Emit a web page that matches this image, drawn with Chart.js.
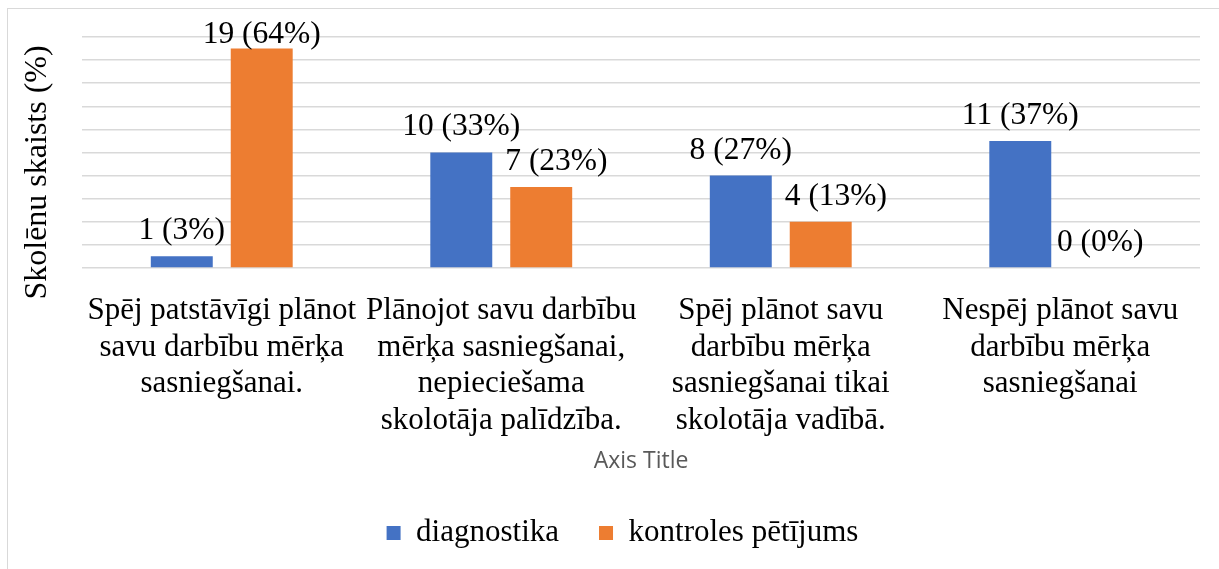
<!DOCTYPE html>
<html>
<head>
<meta charset="utf-8">
<script src="https://cdn.jsdelivr.net/npm/chart.js@4/dist/chart.umd.min.js"></script>
<style>
  html, body { margin:0; padding:0; background:#fff; overflow:hidden; }
  #frame { position:absolute; left:7px; top:8px; width:1300px; height:700px; border:1px solid #d9d9d9; }
  #c { position:absolute; left:0; top:0; }
</style>
</head>
<body>
<div id="frame"></div>
<canvas id="c" width="1219" height="569"></canvas>
<script>
const categories = [
  ["Spēj patstāvīgi plānot", "savu darbību mērķa", "sasniegšanai."],
  ["Plānojot savu darbību", "mērķa sasniegšanai,", "nepieciešama", "skolotāja palīdzība."],
  ["Spēj plānot savu", "darbību mērķa", "sasniegšanai tikai", "skolotāja vadībā."],
  ["Nespēj plānot savu", "darbību mērķa", "sasniegšanai"]
];
const diagCounts = [1, 10, 8, 11];
const diagPct = [3, 33, 27, 37];
const kontrCounts = [19, 7, 4, 0];
const kontrPct = [64, 23, 13, 0];
const yTicks = { min: 0, max: 20, step: 2 };

const SERIF = "'Liberation Serif', 'Times New Roman', serif";

function labelTexts(counts, pct){
  return counts.map((c, i) => `${c} (${pct[i]}%)`);
}

// value labels above bars, kept inside the top of the plot;
// a label that runs into the bar on its left is pushed right
const barLabels = {
  id: "barLabels",
  afterDatasetsDraw(chart){
    const ctx = chart.ctx;
    ctx.save();
    ctx.font = "31.5px " + SERIF;
    ctx.fillStyle = "#000";
    ctx.textAlign = "center";
    ctx.textBaseline = "alphabetic";
    chart.data.datasets.forEach((ds, i) => {
      const meta = chart.getDatasetMeta(i);
      const prev = i > 0 ? chart.getDatasetMeta(i - 1) : null;
      meta.data.forEach((bar, j) => {
        const txt = ds.valueLabels[j];
        const w = ctx.measureText(txt).width;
        let x = bar.x;
        const y = Math.max(bar.y - 17, chart.chartArea.top + 6);
        if(prev){
          const nb = prev.data[j];
          const edge = nb.x + nb.width / 2;
          if(x - w / 2 < edge && y > nb.y) x = edge + 13 + w / 2;
        }
        ctx.fillText(txt, x, y);
      });
    });
    ctx.restore();
  }
};

Chart.defaults.color = "#000";

new Chart(document.getElementById("c"), {
  type: "bar",
  data: {
    labels: categories,
    datasets: [
      { label: "diagnostika", data: diagCounts, valueLabels: labelTexts(diagCounts, diagPct),
        backgroundColor: "#4472C4", borderWidth: 0 },
      { label: "kontroles pētījums", data: kontrCounts, valueLabels: labelTexts(kontrCounts, kontrPct),
        backgroundColor: "#ED7D31", borderWidth: 0 }
    ]
  },
  options: {
    responsive: false,
    animation: false,
    categoryPercentage: 0.572,
    barPercentage: 0.775,
    // left padding is wide so the legend sits where it does in the original
    layout: { padding: { left: 45, right: 19, top: 37, bottom: 10.5 } },
    plugins: {
      tooltip: { enabled: false },
      legend: {
        position: "bottom",
        labels: {
          boxWidth: 14, boxHeight: 14, padding: 40,
          font: { family: SERIF, size: 31 }, color: "#000"
        }
      }
    },
    scales: {
      x: {
        grid: { display: false, drawTicks: false },
        border: { display: false },
        ticks: {
          autoSkip: false, maxRotation: 0, minRotation: 0, padding: 25,
          font: { family: SERIF, size: 31, lineHeight: 1.18 }, color: "#000"
        },
        title: {
          display: true, text: "Axis Title", color: "#595959",
          font: { family: "'Open Sans', sans-serif", size: 23, lineHeight: 1.2 },
          padding: { top: -17, bottom: 2.7 }
        }
      },
      y: {
        min: yTicks.min, max: yTicks.max,
        ticks: { display: false, stepSize: yTicks.step },
        grid: { color: "#d9d9d9", lineWidth: 1.5, drawTicks: false },
        border: { display: false },
        title: {
          display: true,
          // trailing spaces push the centred title down, as in the original
          text: "Skolēnu skaists (%)     ",
          color: "#000",
          font: { family: SERIF, size: 32, lineHeight: 1.2 },
          padding: { top: -26.2, bottom: 24.8 }
        }
      }
    }
  },
  plugins: [barLabels]
});
</script>
</body>
</html>
